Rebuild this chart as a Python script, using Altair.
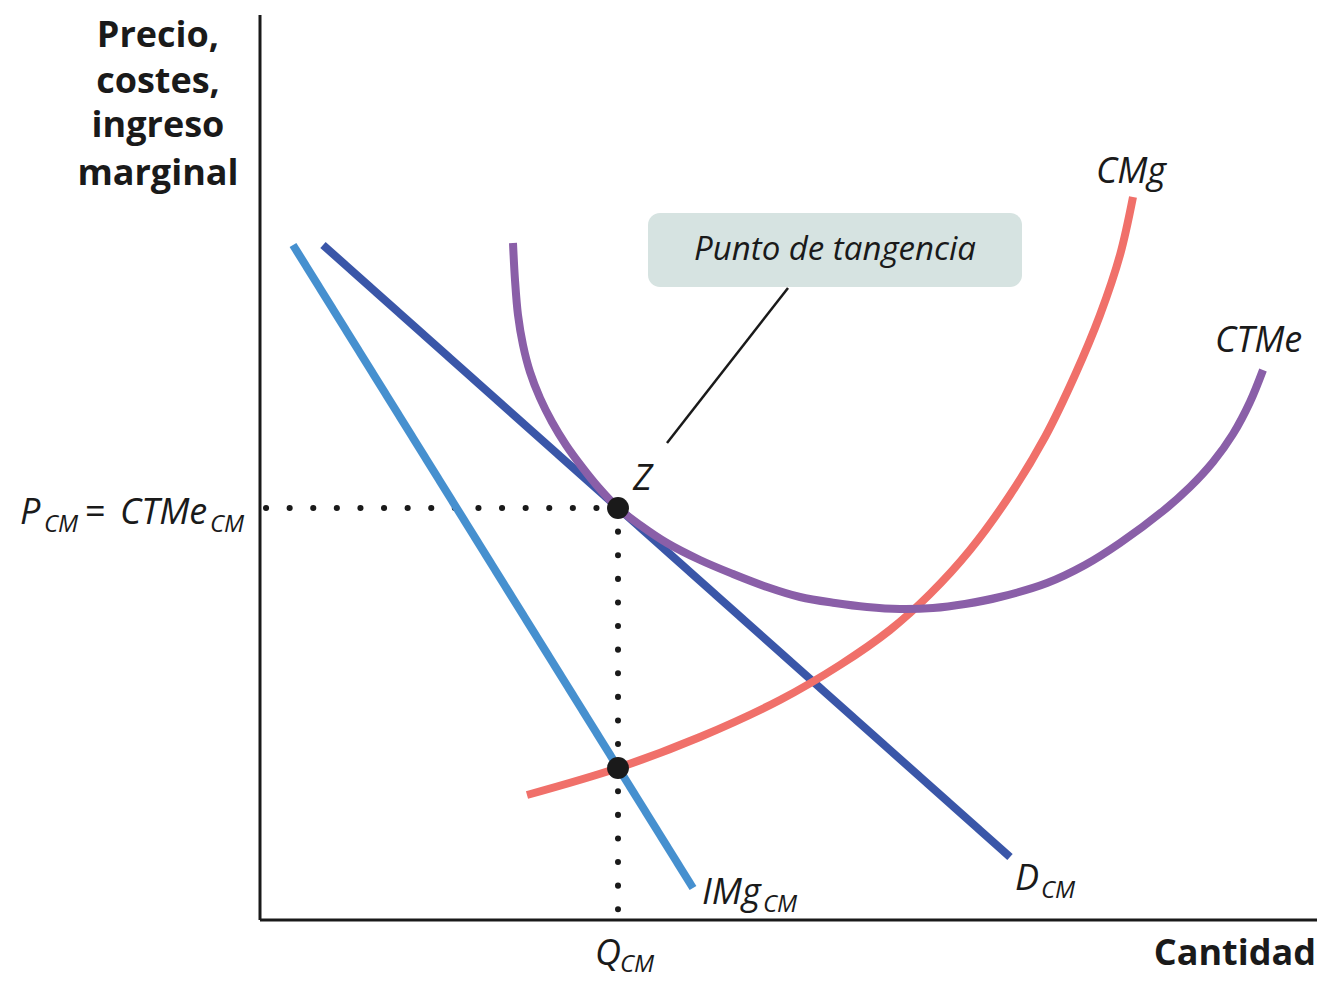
import altair as alt
import pandas as pd

# ---- data (quantity / price units) ----
img_q = [3.3, 43.3]
img_p = [67.5, 3.2]

d_q = [6.3, 75.0]
d_p = [67.5, 6.3]

cmg_q = [26.7, 35.8, 44.0, 52.0, 58.0, 63.0, 67.0, 71.0, 75.0, 78.5, 81.5, 84.0, 86.0, 87.3]
cmg_p = [12.5, 15.2, 18.3, 22.0, 25.5, 29.0, 32.6, 37.0, 42.5, 48.3, 54.5, 60.5, 66.5, 72.3]

ctme_q = [25.3, 25.5, 25.8, 26.3, 27.0, 28.0, 29.2, 30.6, 32.2, 33.9, 35.8, 38.0,
          40.7, 44.0, 47.3, 50.7, 54.0, 57.5, 60.7, 64.0, 67.3, 70.5, 74.0, 78.7,
          82.5, 86.0, 90.3, 93.0, 95.3, 97.3, 99.0, 100.3]
ctme_p = [67.7, 64.0, 60.5, 57.5, 54.8, 52.2, 49.8, 47.5, 45.3, 43.2, 41.2, 39.5,
          37.7, 36.0, 34.6, 33.3, 32.3, 31.7, 31.3, 31.1, 31.2, 31.6, 32.3, 33.7,
          35.5, 37.7, 40.9, 43.3, 45.8, 48.6, 51.8, 55.0]

q_cm = 35.8
p_cm = 41.2
img_at_q = 15.2

FONT = "Open Sans"
SCALE_X = alt.Scale(domain=[0, 105.7], nice=False, zero=False)
SCALE_Y = alt.Scale(domain=[0, 90.5], nice=False, zero=False)


def X(field="x"):
    return alt.X(field, type="quantitative", scale=SCALE_X, axis=None)


def Y(field="y"):
    return alt.Y(field, type="quantitative", scale=SCALE_Y, axis=None)


def curve(qs, ps, color, interp="linear"):
    df = pd.DataFrame({"x": qs, "y": ps, "o": range(len(qs))})
    return alt.Chart(df).mark_line(
        color=color, strokeWidth=8, strokeCap="butt", interpolate=interp
    ).encode(x=X(), y=Y(), order="o:Q")


img_line = curve(img_q, img_p, "#4690cf")
d_line = curve(d_q, d_p, "#3a56a8")
ctme_line = curve(ctme_q, ctme_p, "#8a5fa8", "catmull-rom")
cmg_line = curve(cmg_q, cmg_p, "#f0706a", "catmull-rom")

# axes
axes_df = pd.DataFrame({"x": [0, 0], "x2": [0, 105.7], "y": [0, 0], "y2": [90.5, 0]})
axes = alt.Chart(axes_df).mark_rule(color="#1a1a1a", strokeWidth=3).encode(
    x=X(), x2="x2", y=Y(), y2="y2"
)

# dotted guide lines
guides_df = pd.DataFrame({"x": [0.6, q_cm], "x2": [q_cm, q_cm],
                          "y": [p_cm, p_cm], "y2": [p_cm, 0]})
guides = alt.Chart(guides_df).mark_rule(
    color="#1a1a1a", strokeWidth=6, strokeDash=[0.1, 23.5], strokeCap="round"
).encode(x=X(), x2="x2", y=Y(), y2="y2")

# key points
pts_df = pd.DataFrame({"x": [q_cm, q_cm], "y": [p_cm, img_at_q]})
pts = alt.Chart(pts_df).mark_circle(size=480, color="#1a1a1a", opacity=1).encode(
    x=X(), y=Y()
)

# annotation box + leader
box_df = pd.DataFrame({"x": [38.8], "x2": [76.2], "y": [70.7], "y2": [63.3]})
box = alt.Chart(box_df).mark_rect(color="#d6e3e1", cornerRadius=12).encode(
    x=X(), x2="x2", y=Y(), y2="y2"
)
leader_df = pd.DataFrame({"x": [52.8], "x2": [40.7], "y": [63.2], "y2": [47.7]})
leader = alt.Chart(leader_df).mark_rule(color="#1a1a1a", strokeWidth=2.5).encode(
    x=X(), x2="x2", y=Y(), y2="y2"
)


def texts(rows, size, style="normal", weight="normal", align="left"):
    df = pd.DataFrame(rows, columns=["x", "y", "t"])
    return alt.Chart(df).mark_text(
        font=FONT, fontSize=size, fontStyle=style, fontWeight=weight,
        align=align, baseline="alphabetic", color="#1a1a1a"
    ).encode(x=X(), y=Y(), text="t:N")


ytitle = texts([
    (-10.2, 87.3, "Precio,"),
    (-10.2, 82.7, "costes,"),
    (-10.2, 78.3, "ingreso"),
    (-10.2, 73.5, "marginal"),
], 36, weight="bold", align="center")

xtitle = texts([(105.6, -4.5, "Cantidad")], 36, weight="bold", align="right")

main_it = texts([
    (-24.0, 39.6, "P"),
    (-14.0, 39.6, "CTMe"),
    (33.5, -4.5, "Q"),
    (44.2, 1.6, "IMg"),
    (75.5, 3.0, "D"),
    (83.6, 73.7, "CMg"),
    (95.5, 56.8, "CTMe"),
    (37.3, 43.0, "Z"),
], 36, style="italic")

eq = texts([(-17.5, 39.6, "=")], 36)

subs = texts([
    (-21.6, 38.8, "CM"),
    (-5.0, 38.8, "CM"),
    (36.0, -5.2, "CM"),
    (50.3, 0.8, "CM"),
    (78.1, 2.2, "CM"),
], 24, style="italic")

box_label = texts([(57.5, 66.0, "Punto de tangencia")], 33, style="italic",
                  align="center")

chart = alt.layer(
    box, leader, axes, guides, img_line, d_line, cmg_line, ctme_line, pts,
    ytitle, xtitle, main_it, eq, subs, box_label
).properties(
    width=1057, height=905,
    padding={"left": 252, "top": 7, "right": 0, "bottom": 54},
    autosize=alt.AutoSizeParams(type="none"),
).configure(background="white").configure_view(stroke="transparent", strokeWidth=0)

chart.save("out.html", embed_options={"renderer": "svg", "actions": False})
